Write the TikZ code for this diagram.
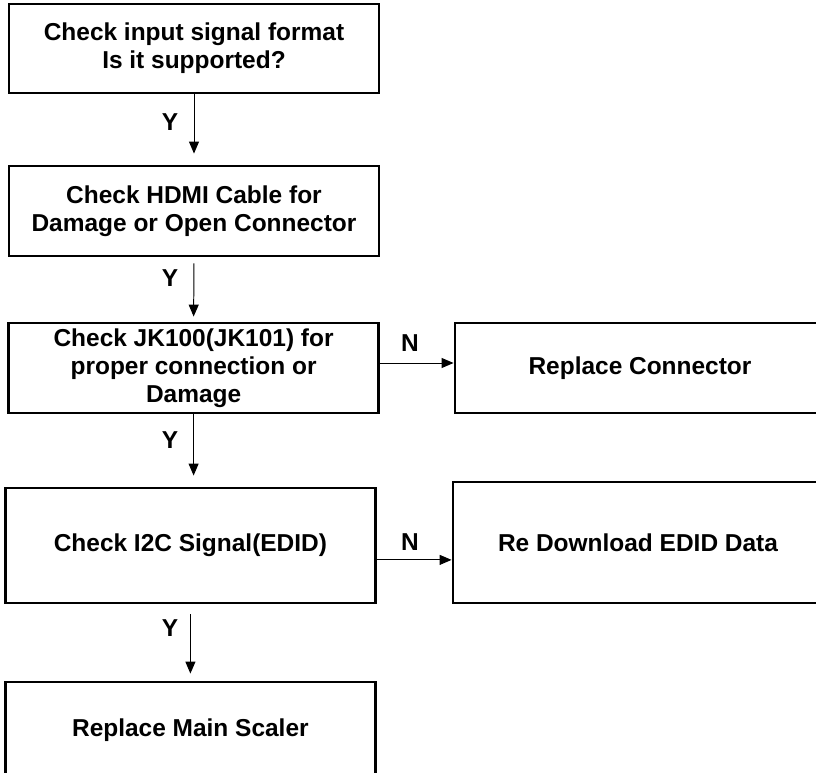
\documentclass[tikz,border=0pt]{standalone}
\usepackage{fontspec}
\setmainfont{Liberation Sans}
\usetikzlibrary{arrows.meta}
\begin{document}
\begin{tikzpicture}[
        box/.style={draw, line width=2pt, minimum width=9.25cm, align=center,
            font=\fontsize{17.4}{20}\selectfont\bfseries},
        lbl/.style={font=\fontsize{17.4}{20}\selectfont\bfseries},
        flow/.style={line width=0.7pt, -{Triangle[length=0.3cm,width=0.25cm]}}
    ]
        \useasboundingbox (0,0) rectangle (20.4,-19.325);
        \node[box, minimum height=2.225cm] (chk1) at (4.85,-1.2125) {Check input signal format\\Is it supported?};
        \node[box, minimum height=2.25cm] (chk2) at (4.85,-5.275) {Check HDMI Cable for\\Damage or Open Connector};
        \node[box, minimum height=2.25cm] (chk3) at (4.84,-9.2) {Check JK100(JK101) for\\proper connection or\\Damage};
        \node[box, minimum height=2.25cm] (repl) at (16.0,-9.2) {Replace Connector};
        \node[box, minimum height=2.875cm] (chk4) at (4.76,-13.6375) {Check I2C Signal(EDID)};
        \node[box, minimum height=3.025cm] (redl) at (15.95,-13.5625) {Re Download EDID Data};
        \node[box, minimum height=2.4cm] (scal) at (4.76,-18.25) {Replace Main Scaler};
        \draw[flow, shorten >=0.275cm] (chk1.south) -- (chk2.north);
        \draw[flow, shorten <=0.15cm, shorten >=0.125cm] (chk2.south) -- (chk3.north);
        \draw[flow, shorten >=0.275cm] (chk3.south) -- (chk3.south |- chk4.north);
        \draw[flow, shorten <=0.25cm, shorten >=0.175cm] (chk4.south) -- (scal.north);
        \draw[flow] ([yshift=0.125cm]chk3.east) -- ([yshift=0.125cm]chk3.east -| repl.west);
        \draw[flow] ([yshift=-0.36cm]chk4.east) -- ([yshift=-0.36cm]chk4.east -| redl.west);
        \node[lbl] (y1) at (4.25,-3.05) {Y};
        \node[lbl] (y2) at (4.25,-6.95) {Y};
        \node[lbl] (y3) at (4.25,-11.0) {Y};
        \node[lbl] (y4) at (4.25,-15.7) {Y};
        \node[lbl] (n1) at (10.25,-8.575) {N};
        \node[lbl] (n2) at (10.25,-13.55) {N};
    \end{tikzpicture}
\end{document}
